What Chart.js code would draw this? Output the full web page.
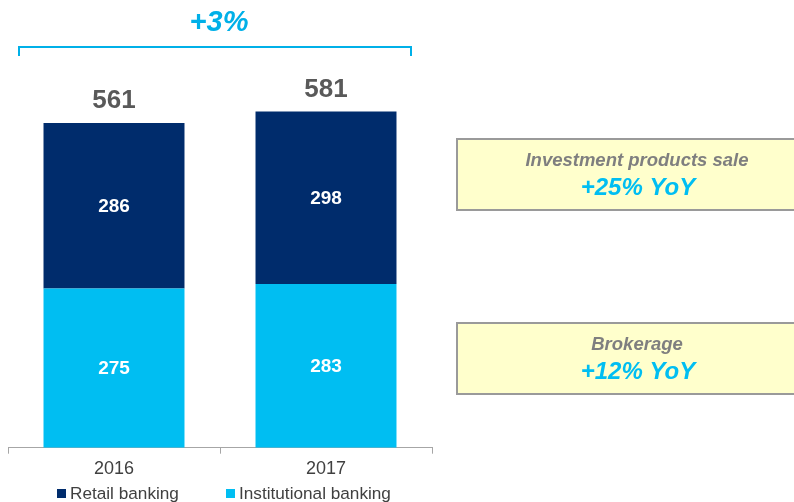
<!DOCTYPE html>
<html>
<head>
<meta charset="utf-8">
<script src="https://cdn.jsdelivr.net/npm/chart.js@4.4.0/dist/chart.umd.min.js"></script>
<style>
html, body { margin: 0; padding: 0; background: #fff; }
#wrap { width: 794px; height: 502px; }
</style>
</head>
<body>
<div id="wrap"><canvas id="myChart" width="794" height="502"></canvas></div>
<script>
// data
var years = ['2016', '2017'];
var institutional = [275, 283];
var retail = [286, 298];
var seriesNames = ['Institutional banking', 'Retail banking'];
var growthLabel = '+3%';
var boxTitles = ['Investment products sale', 'Brokerage'];
var boxValues = ['+25% YoY', '+12% YoY'];

var FONT = '"Liberation Sans", Arial, sans-serif';
var NAVY = '#002C6C';
var CYAN = '#00BEF2';

var decor = {
    id: 'decor',
    afterDatasetsDraw: function(chart) {
        var ctx = chart.ctx;
        ctx.save();
        ctx.textAlign = 'center';
        ctx.textBaseline = 'middle';

        // values inside the segments
        chart.data.datasets.forEach(function(ds, d) {
            var meta = chart.getDatasetMeta(d);
            meta.data.forEach(function(bar, i) {
                ctx.fillStyle = '#ffffff';
                ctx.font = 'bold 19px ' + FONT;
                ctx.fillText(ds.data[i], bar.x, (bar.y + bar.base) / 2 + 1);
            });
        });

        // totals above the stacks
        var topMeta = chart.getDatasetMeta(chart.data.datasets.length - 1);
        topMeta.data.forEach(function(bar, i) {
            var total = institutional[i] + retail[i];
            ctx.fillStyle = '#595959';
            ctx.font = 'bold 26px ' + FONT;
            ctx.fillText(total, bar.x, bar.y - 22);
        });

        // bracket with growth
        ctx.strokeStyle = '#00B0E8';
        ctx.lineWidth = 2;
        ctx.beginPath();
        ctx.moveTo(19, 56);
        ctx.lineTo(19, 47);
        ctx.lineTo(411, 47);
        ctx.lineTo(411, 56);
        ctx.stroke();
        ctx.fillStyle = '#00B0E8';
        ctx.font = 'italic bold 29px ' + FONT;
        ctx.fillText(growthLabel, 219, 23);

        // side boxes
        var boxTops = [139, 323];
        for (var b = 0; b < boxTitles.length; b++) {
            var y0 = boxTops[b];
            ctx.fillStyle = '#FFFFCC';
            ctx.fillRect(457, y0, 360, 71);
            ctx.strokeStyle = '#9A9A9A';
            ctx.lineWidth = 2;
            ctx.strokeRect(457, y0, 360, 71);
            ctx.fillStyle = '#7F7F7F';
            ctx.font = 'italic bold 18.5px ' + FONT;
            ctx.fillText(boxTitles[b], 637, y0 + 22);
            ctx.fillStyle = CYAN;
            ctx.font = 'italic bold 24px ' + FONT;
            ctx.fillText(boxValues[b], 638, y0 + 49);
        }

        // legend (retail first)
        var legendX = [57, 226];
        ctx.textAlign = 'left';
        ctx.font = '17.2px ' + FONT;
        for (var k = 0; k < chart.data.datasets.length; k++) {
            var ds = chart.data.datasets[chart.data.datasets.length - 1 - k];
            ctx.fillStyle = ds.backgroundColor;
            ctx.fillRect(legendX[k], 489, 9, 9);
            ctx.fillStyle = '#404040';
            ctx.fillText(ds.label, legendX[k] + 13, 494);
        }
        ctx.restore();
    }
};

function chartCreate() {
    var data = {
        labels: years,
        datasets: [{
            label: seriesNames[0],
            data: institutional,
            backgroundColor: CYAN,
            borderWidth: 0
        }, {
            label: seriesNames[1],
            data: retail,
            backgroundColor: NAVY,
            borderWidth: 0
        }]
    };
    var config = {
        type: 'bar',
        data: data,
        options: {
            responsive: false,
            animation: false,
            layout: { padding: { left: 8, right: 362, top: 42.5, bottom: 22.3 } },
            datasets: { bar: { categoryPercentage: 1, barPercentage: 0.665 } },
            plugins: { legend: { display: false }, tooltip: { enabled: false } },
            scales: {
                x: {
                    stacked: true,
                    afterFit: function(scale) { scale.height = 32; },
                    grid: { display: true, drawOnChartArea: false, drawTicks: true, tickLength: 6, color: '#A6A6A6', offset: true },
                    border: { display: true, color: '#A6A6A6', width: 1 },
                    ticks: { color: '#404040', font: { size: 18, family: FONT }, padding: 5 }
                },
                y: {
                    stacked: true,
                    display: false,
                    min: 0,
                    max: 700
                }
            }
        },
        plugins: [decor]
    };
    new Chart(document.getElementById('myChart'), config);
}

chartCreate();
</script>
</body>
</html>
